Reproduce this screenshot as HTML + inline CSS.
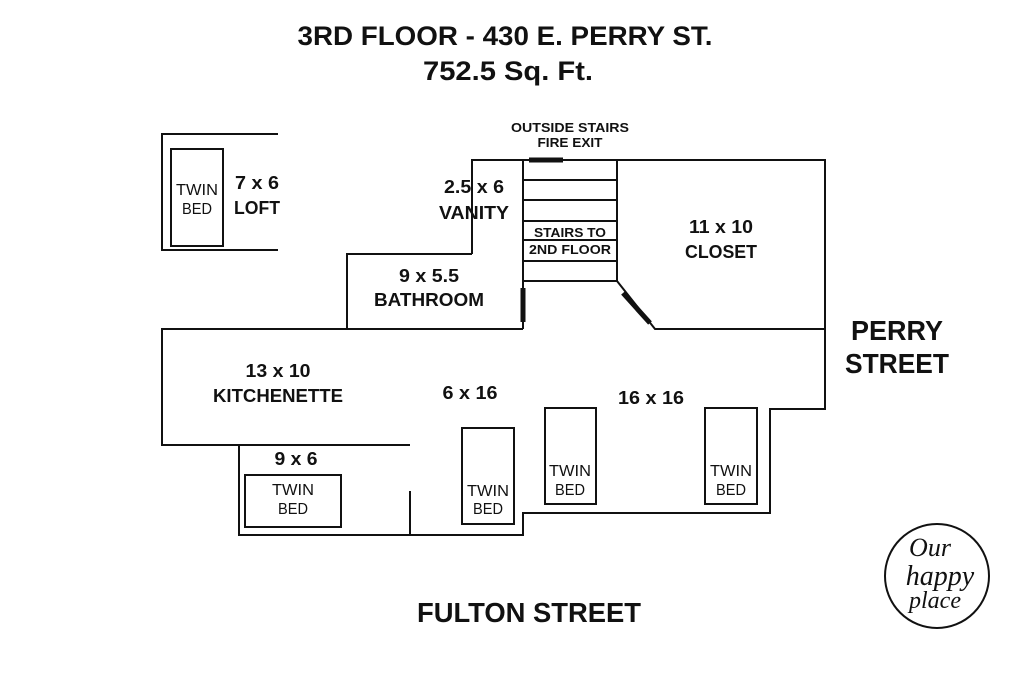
<!DOCTYPE html>
<html><head><style>html,body{margin:0;padding:0;background:#fff}svg{display:block}</style></head>
<body>
<svg width="1024" height="683" viewBox="0 0 1024 683" xmlns="http://www.w3.org/2000/svg">
<g font-family="Liberation Sans Narrow, Liberation Sans, sans-serif" font-weight="bold" text-anchor="middle" fill="#111">
<text x="505" y="45" font-size="27" textLength="415" lengthAdjust="spacingAndGlyphs">3RD FLOOR - 430 E. PERRY ST.</text>
<text x="508" y="80" font-size="27" textLength="170" lengthAdjust="spacingAndGlyphs">752.5 Sq. Ft.</text>
<text x="897" y="340" font-size="28" textLength="92" lengthAdjust="spacingAndGlyphs">PERRY</text>
<text x="897" y="373" font-size="28" textLength="104" lengthAdjust="spacingAndGlyphs">STREET</text>
<text x="529" y="622" font-size="28" textLength="224" lengthAdjust="spacingAndGlyphs">FULTON STREET</text>
<text x="570" y="132" font-size="13" textLength="118" lengthAdjust="spacingAndGlyphs">OUTSIDE STAIRS</text>
<text x="570" y="147" font-size="13" textLength="65" lengthAdjust="spacingAndGlyphs">FIRE EXIT</text>
<text x="570" y="237" font-size="13" textLength="72" lengthAdjust="spacingAndGlyphs">STAIRS TO</text>
<text x="570" y="254" font-size="13" textLength="82" lengthAdjust="spacingAndGlyphs">2ND FLOOR</text>
<g font-size="18">
<text x="257" y="189" textLength="44" lengthAdjust="spacingAndGlyphs">7 x 6</text>
<text x="257" y="214" textLength="46" lengthAdjust="spacingAndGlyphs">LOFT</text>
<text x="474" y="193" textLength="60" lengthAdjust="spacingAndGlyphs">2.5 x 6</text>
<text x="474" y="219" textLength="70" lengthAdjust="spacingAndGlyphs">VANITY</text>
<text x="721" y="233" textLength="64" lengthAdjust="spacingAndGlyphs">11 x 10</text>
<text x="721" y="258" textLength="72" lengthAdjust="spacingAndGlyphs">CLOSET</text>
<text x="429" y="282" textLength="60" lengthAdjust="spacingAndGlyphs">9 x 5.5</text>
<text x="429" y="306" textLength="110" lengthAdjust="spacingAndGlyphs">BATHROOM</text>
<text x="278" y="377" textLength="65" lengthAdjust="spacingAndGlyphs">13 x 10</text>
<text x="278" y="402" textLength="130" lengthAdjust="spacingAndGlyphs">KITCHENETTE</text>
<text x="470" y="399" textLength="55" lengthAdjust="spacingAndGlyphs">6 x 16</text>
<text x="651" y="404" textLength="66" lengthAdjust="spacingAndGlyphs">16 x 16</text>
<text x="296" y="465" textLength="43" lengthAdjust="spacingAndGlyphs">9 x 6</text>
</g>
<g font-size="16" font-weight="normal">
<text x="197" y="195" textLength="42" lengthAdjust="spacingAndGlyphs">TWIN</text>
<text x="197" y="214" textLength="30" lengthAdjust="spacingAndGlyphs">BED</text>
<text x="293" y="495" textLength="42" lengthAdjust="spacingAndGlyphs">TWIN</text>
<text x="293" y="514" textLength="30" lengthAdjust="spacingAndGlyphs">BED</text>
<text x="488" y="496" textLength="42" lengthAdjust="spacingAndGlyphs">TWIN</text>
<text x="488" y="514" textLength="30" lengthAdjust="spacingAndGlyphs">BED</text>
<text x="570" y="476" textLength="42" lengthAdjust="spacingAndGlyphs">TWIN</text>
<text x="570" y="495" textLength="30" lengthAdjust="spacingAndGlyphs">BED</text>
<text x="731" y="476" textLength="42" lengthAdjust="spacingAndGlyphs">TWIN</text>
<text x="731" y="495" textLength="30" lengthAdjust="spacingAndGlyphs">BED</text>
</g>
</g>
<g stroke="#111" stroke-width="2" fill="none">
<polyline points="278,134 162,134 162,250 278,250"/>
<rect x="171" y="149" width="52" height="97"/>
<polyline points="472,254 472,160 825,160 825,409 770,409 770,513 523,513 523,535 239,535 239,445"/>
<polyline points="410,445 162,445 162,329 523,329"/>
<polyline points="347,329 347,254 472,254"/>
<line x1="523" y1="160" x2="523" y2="329"/>
<line x1="617" y1="160" x2="617" y2="281"/>
<line x1="523" y1="180" x2="617" y2="180"/>
<line x1="523" y1="200" x2="617" y2="200"/>
<line x1="523" y1="221" x2="617" y2="221"/>
<line x1="523" y1="240" x2="617" y2="240"/>
<line x1="523" y1="261" x2="617" y2="261"/>
<line x1="523" y1="281" x2="617" y2="281"/>
<polyline points="617,281 655,329 825,329"/>
<line x1="410" y1="491" x2="410" y2="535"/>
<line x1="514" y1="445" x2="514" y2="524"/>
<rect x="245" y="475" width="96" height="52"/>
<rect x="462" y="428" width="52" height="96"/>
<rect x="545" y="408" width="51" height="96"/>
<rect x="705" y="408" width="52" height="96"/>
</g>
<g stroke="#111" stroke-width="5">
<line x1="529" y1="160" x2="563" y2="160"/>
<line x1="523" y1="288" x2="523" y2="322"/>
<line x1="623" y1="293" x2="650" y2="323"/>
</g>
<circle cx="937" cy="576" r="52" fill="none" stroke="#111" stroke-width="2"/>
<g font-family="Liberation Serif, serif" font-style="italic" fill="#111" text-anchor="middle">
<text x="930" y="556" font-size="26">Our</text>
<text x="940" y="585" font-size="28">happy</text>
<text x="935" y="608" font-size="24">place</text>
</g>
</svg>
</body></html>
